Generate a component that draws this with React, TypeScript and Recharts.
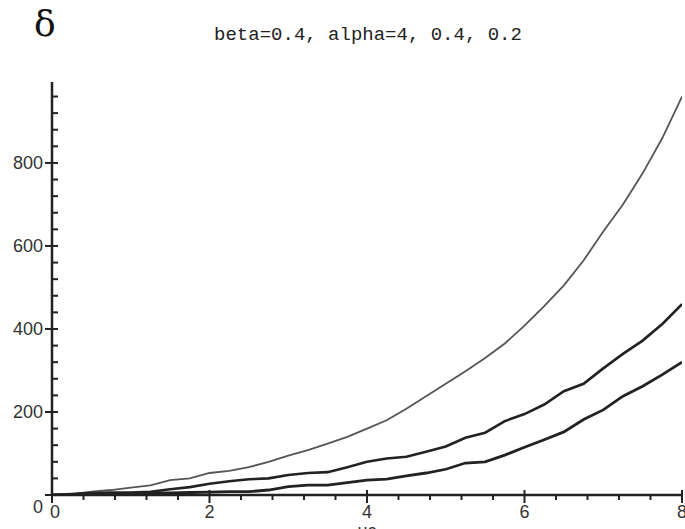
import React from "react";
import { LineChart, Line, XAxis, YAxis, Label } from "recharts";

// uc values along the x axis
const ucValues = [
    0, 0.25, 0.5, 0.75, 1, 1.25, 1.5, 1.75, 2, 2.25, 2.5, 2.75, 3, 3.25, 3.5, 3.75, 4,
    4.25, 4.5, 4.75, 5, 5.25, 5.5, 5.75, 6, 6.25, 6.5, 6.75, 7, 7.25, 7.5, 7.75, 8
];

// alpha = 4
const deltaAlpha4 = [
    0, 2, 8, 12, 18, 23, 36, 40, 53, 58, 67, 80, 95, 108, 124, 140, 160,
    180, 208, 238, 268, 298, 330, 365, 408, 455, 505, 565, 635, 700, 775, 860, 960
];

// alpha = 0.4
const deltaAlpha04 = [
    0, 2, 5, 6, 6, 8, 14, 19, 27, 33, 38, 40, 48, 53, 55, 67, 80,
    88, 92, 104, 117, 138, 150, 178, 195, 218, 250, 268, 305, 340, 372, 412, 460
];

// alpha = 0.2
const deltaAlpha02 = [
    0, 1, 3, 3, 4, 5, 5, 6, 7, 8, 8, 12, 20, 24, 24, 30, 36,
    38, 46, 53, 62, 77, 80, 96, 115, 133, 152, 182, 205, 238, 262, 290, 320
];

const xTicks = [
    0, 0.4, 0.8, 1.2, 1.6, 2, 2.4, 2.8, 3.2, 3.6, 4, 4.4, 4.8, 5.2, 5.6, 6,
    6.4, 6.8, 7.2, 7.6, 8
];
const yTicks = [
    0, 40, 80, 120, 160, 200, 240, 280, 320, 360, 400, 440, 480, 520, 560, 600,
    640, 680, 720, 760, 800, 840, 880, 920, 960
];

const data = ucValues.map((uc, i) => ({
    uc,
    a4: deltaAlpha4[i],
    a04: deltaAlpha04[i],
    a02: deltaAlpha02[i]
}));

const ink = "#222";
const labelFont = "'Liberation Sans', Arial, sans-serif";

const YTick = (props: any) => {
    const { x, y, payload } = props;
    const v = payload.value;
    const major = v % 200 === 0;
    return (
        <g>
            <line x1={major ? x - 7 : x} x2={x + 6} y1={y} y2={y} stroke={ink} strokeWidth={2} />
            {major && (
                <text
                    x={x - 9}
                    y={v === 0 ? y + 12 : y}
                    textAnchor="end"
                    dominantBaseline="central"
                    fontSize={18}
                    fontFamily={labelFont}
                    fill="#333"
                >
                    {v}
                </text>
            )}
        </g>
    );
};

const XTick = (props: any) => {
    const { x, y, payload } = props;
    const v = payload.value;
    const major = Math.abs(v / 2 - Math.round(v / 2)) < 1e-6;
    return (
        <g>
            <line x1={x} x2={x} y1={major ? y - 5 : y} y2={y + (major ? 8 : 5)} stroke={ink} strokeWidth={2} />
            {major && (
                <text
                    x={v === 0 ? x + 3 : x}
                    y={y + 17}
                    textAnchor="middle"
                    dominantBaseline="central"
                    fontSize={18}
                    fontFamily={labelFont}
                    fill="#333"
                >
                    {v}
                </text>
            )}
        </g>
    );
};

export default function App() {
    return (
        <div style={{ position: "absolute", left: 0, top: 0, width: 685, height: 529, background: "#fff", overflow: "hidden" }}>
            <svg width={685} height={60} style={{ position: "absolute", left: 0, top: 0 }}>
                <text x={34} y={36} fontSize={36} fontFamily="'DejaVu Serif', serif" fill="#111">δ</text>
                <text
                    x={368}
                    y={40}
                    textAnchor="middle"
                    fontSize={19}
                    fontFamily="'Liberation Mono', 'Courier New', monospace"
                    fill="#222"
                >
                    beta=0.4, alpha=4, 0.4, 0.2
                </text>
            </svg>
            <div style={{ position: "absolute", left: 0, top: 0 }}>
                <LineChart width={685} height={529} data={data} margin={{ top: 82, right: 3, bottom: 0, left: 12 }}>
                    <XAxis
                        type="number"
                        dataKey="uc"
                        domain={[0, 8]}
                        ticks={xTicks}
                        interval={0}
                        height={34}
                        tickSize={0}
                        tickMargin={0}
                        tickLine={false}
                        axisLine={{ stroke: ink, strokeWidth: 2.5 }}
                        tick={<XTick />}
                        allowDataOverflow
                    >
                        <Label value="uc" position="insideBottom" offset={-8} fontSize={18} fontFamily={labelFont} fill="#333" />
                    </XAxis>
                    <YAxis
                        type="number"
                        domain={[0, 995]}
                        ticks={yTicks}
                        interval={0}
                        width={40}
                        tickSize={0}
                        tickMargin={0}
                        tickLine={false}
                        axisLine={{ stroke: ink, strokeWidth: 2.5 }}
                        tick={<YTick />}
                        allowDataOverflow
                    />
                    <Line type="linear" dataKey="a4" stroke="#555" strokeWidth={1.8} dot={false} isAnimationActive={false} />
                    <Line type="linear" dataKey="a04" stroke={ink} strokeWidth={2.6} dot={false} isAnimationActive={false} />
                    <Line type="linear" dataKey="a02" stroke={ink} strokeWidth={2.8} dot={false} isAnimationActive={false} />
                </LineChart>
            </div>
        </div>
    );
}
